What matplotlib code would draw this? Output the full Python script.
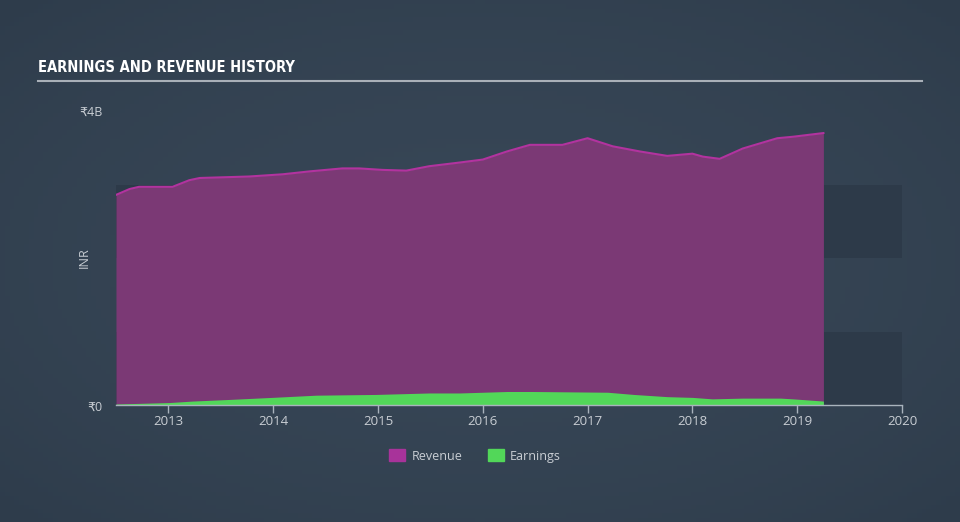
import numpy as np
import matplotlib
matplotlib.use("Agg")
import matplotlib.pyplot as plt
from matplotlib.patches import Patch

# Revenue / earnings history (INR, billions)
rev_years = [2012.50, 2012.63, 2012.72, 2013.04, 2013.20, 2013.30, 2013.77, 2014.09,
             2014.35, 2014.66, 2014.82, 2015.04, 2015.27, 2015.49, 2015.78, 2016.00,
             2016.23, 2016.45, 2016.76, 2017.00, 2017.24, 2017.50, 2017.76, 2018.00,
             2018.10, 2018.26, 2018.48, 2018.81, 2018.96, 2019.25]
revenue = [2.86, 2.94, 2.97, 2.97, 3.06, 3.09, 3.11, 3.14,
           3.18, 3.22, 3.22, 3.20, 3.19, 3.25, 3.30, 3.34,
           3.45, 3.54, 3.54, 3.63, 3.52, 3.45, 3.39, 3.42,
           3.38, 3.35, 3.49, 3.63, 3.65, 3.70]

earn_years = [2012.50, 2013.01, 2013.23, 2013.55, 2013.99, 2014.41, 2014.98, 2015.49,
              2015.78, 2016.23, 2016.48, 2017.19, 2017.44, 2017.76, 2018.00, 2018.19,
              2018.48, 2018.84, 2018.96, 2019.25]
earnings = [0.02, 0.04, 0.06, 0.08, 0.11, 0.14, 0.15, 0.17,
            0.17, 0.19, 0.19, 0.18, 0.15, 0.12, 0.11, 0.09,
            0.10, 0.10, 0.09, 0.06]

year_ticks = [2013, 2014, 2015, 2016, 2017, 2018, 2019, 2020]

BG = "#344353"
BAND = "#2d3a49"
REV_FILL = "#7b3975"
REV_LINE = "#b2339f"
EARN_FILL = "#52d759"
TEXT = "#c9ced4"

plt.rcParams["font.family"] = ["Open Sans", "DejaVu Sans"]

fig = plt.figure(figsize=(9.6, 5.22), dpi=100)
fig.patch.set_facecolor(BG)

# subtle background gradient
bg_ax = fig.add_axes([0, 0, 1, 1], zorder=-10)
gx, gy = np.meshgrid(np.linspace(-1, 1, 200), np.linspace(-1, 1, 120))
grad = 1 - 0.5 * (gx ** 2 + gy ** 2)
bg_ax.imshow(grad, cmap=matplotlib.colors.LinearSegmentedColormap.from_list(
    "bg", ["#2e3c4b", "#374656"]), aspect="auto", extent=[0, 1, 0, 1])
bg_ax.axis("off")

ax = fig.add_axes([0.1208, 0.2232, 0.8188, 0.5642])
ax.set_facecolor("none")

ax.axhspan(0, 1, color=BAND, zorder=0, lw=0)
ax.axhspan(2, 3, color=BAND, zorder=0, lw=0)

ax.fill_between(rev_years, revenue, 0, color=REV_FILL, lw=0, zorder=2)
ax.plot(rev_years, revenue, color=REV_LINE, lw=1.5, zorder=3)
ax.fill_between(earn_years, earnings, 0, color=EARN_FILL, lw=0, zorder=4)

ax.set_xlim(2012.5, 2020)
ax.set_ylim(0, 4)

for side in ["top", "right", "left"]:
    ax.spines[side].set_visible(False)
ax.spines["bottom"].set_color("#a9b3bd")
ax.spines["bottom"].set_linewidth(1)
ax.spines["bottom"].set_zorder(5)

ax.set_xticks(year_ticks)
ax.set_xticklabels([str(y) for y in year_ticks])
ax.tick_params(axis="x", colors="#a9b3bd", labelcolor=TEXT, labelsize=9.5,
               length=6, width=1, direction="out", pad=1)
ax.set_yticks([0, 4])
ax.set_yticklabels(["₹0", "₹4B"])
ax.tick_params(axis="y", length=0, labelcolor=TEXT, labelsize=9, pad=10)
fig.text(84 / 960, 1 - 258 / 522, "INR", color=TEXT, fontsize=9, rotation=90,
         ha="center", va="center")

# title and underline
fig.text(38 / 960, 1 - 68 / 522, "EARNINGS AND REVENUE HISTORY", color="white",
         fontsize=10.5, fontweight="bold", fontstretch="condensed", va="center", ha="left",
         family=["DejaVu Sans"])
fig.add_artist(plt.Line2D([38 / 960, 922 / 960], [1 - 81 / 522, 1 - 81 / 522],
                          color="#a9b0b8", lw=1.5))

handles = [Patch(color="#a8339a", label="Revenue"), Patch(color=EARN_FILL, label="Earnings")]
fig.legend(handles=handles, loc="center", bbox_to_anchor=(475 / 960, 1 - 456 / 522),
           ncol=2, frameon=False, fontsize=9, labelcolor=TEXT, handlelength=1.3,
           handleheight=1.1, columnspacing=2.0, handletextpad=0.5)

fig.savefig("out.png", dpi=100, facecolor=fig.get_facecolor())
